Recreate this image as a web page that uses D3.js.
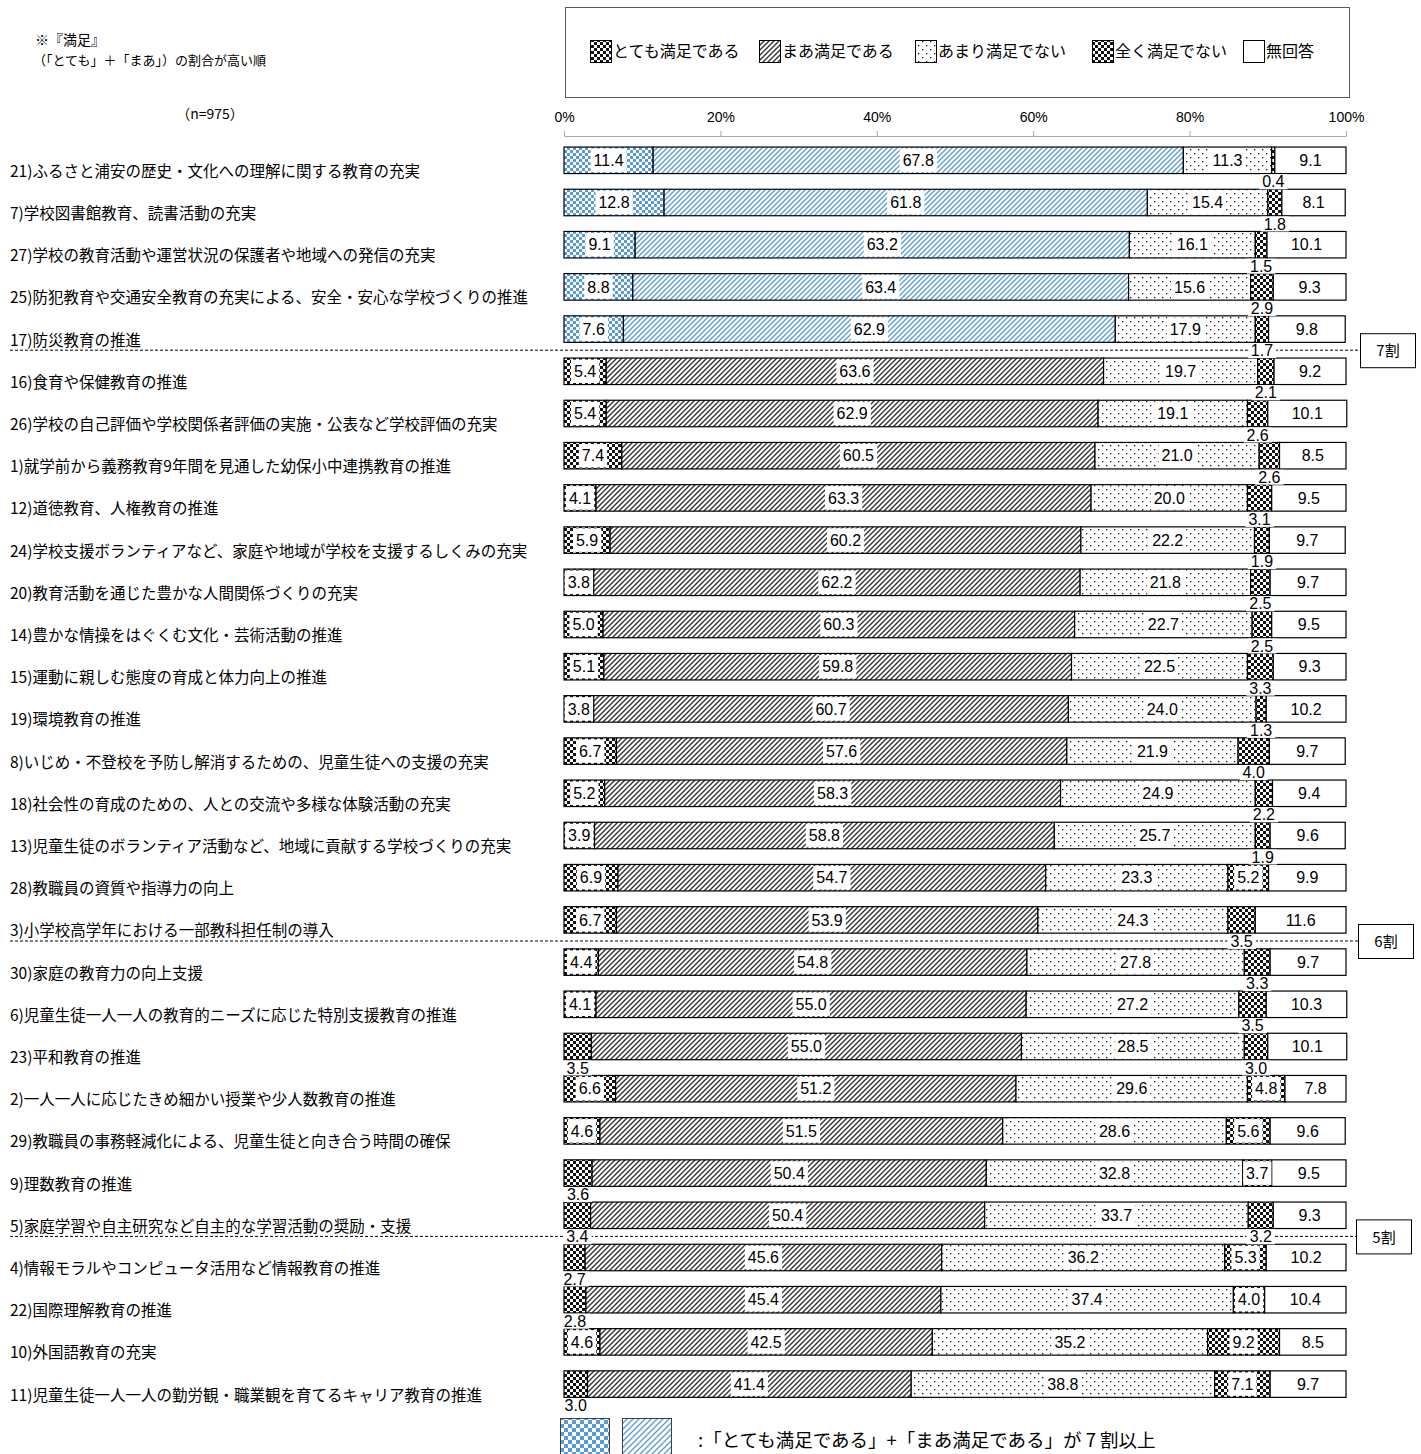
<!DOCTYPE html>
<html>
<head>
<meta charset="utf-8">
<script src="https://cdn.jsdelivr.net/npm/d3@7"></script>
<style>
  body { margin: 0; background: #fff; }
  svg { display: block; }
</style>
</head>
<body>
<div id="chart"></div>
<script>
const width = 1421;
const height = 1454;

// category labels, in the order shown (highest 『満足』 first)
const categories = [
    "21)ふるさと浦安の歴史・文化への理解に関する教育の充実",
    "7)学校図書館教育、読書活動の充実",
    "27)学校の教育活動や運営状況の保護者や地域への発信の充実",
    "25)防犯教育や交通安全教育の充実による、安全・安心な学校づくりの推進",
    "17)防災教育の推進",
    "16)食育や保健教育の推進",
    "26)学校の自己評価や学校関係者評価の実施・公表など学校評価の充実",
    "1)就学前から義務教育9年間を見通した幼保小中連携教育の推進",
    "12)道徳教育、人権教育の推進",
    "24)学校支援ボランティアなど、家庭や地域が学校を支援するしくみの充実",
    "20)教育活動を通じた豊かな人間関係づくりの充実",
    "14)豊かな情操をはぐくむ文化・芸術活動の推進",
    "15)運動に親しむ態度の育成と体力向上の推進",
    "19)環境教育の推進",
    "8)いじめ・不登校を予防し解消するための、児童生徒への支援の充実",
    "18)社会性の育成のための、人との交流や多様な体験活動の充実",
    "13)児童生徒のボランティア活動など、地域に貢献する学校づくりの充実",
    "28)教職員の資質や指導力の向上",
    "3)小学校高学年における一部教科担任制の導入",
    "30)家庭の教育力の向上支援",
    "6)児童生徒一人一人の教育的ニーズに応じた特別支援教育の推進",
    "23)平和教育の推進",
    "2)一人一人に応じたきめ細かい授業や少人数教育の推進",
    "29)教職員の事務軽減化による、児童生徒と向き合う時間の確保",
    "9)理数教育の推進",
    "5)家庭学習や自主研究など自主的な学習活動の奨励・支援",
    "4)情報モラルやコンピュータ活用など情報教育の推進",
    "22)国際理解教育の推進",
    "10)外国語教育の充実",
    "11)児童生徒一人一人の勤労観・職業観を育てるキャリア教育の推進"
];

const totemo  = [11.4, 12.8, 9.1, 8.8, 7.6, 5.4, 5.4, 7.4, 4.1, 5.9, 3.8, 5.0, 5.1, 3.8, 6.7, 5.2, 3.9, 6.9, 6.7, 4.4, 4.1, 3.5, 6.6, 4.6, 3.6, 3.4, 2.7, 2.8, 4.6, 3.0];
const maa     = [67.8, 61.8, 63.2, 63.4, 62.9, 63.6, 62.9, 60.5, 63.3, 60.2, 62.2, 60.3, 59.8, 60.7, 57.6, 58.3, 58.8, 54.7, 53.9, 54.8, 55.0, 55.0, 51.2, 51.5, 50.4, 50.4, 45.6, 45.4, 42.5, 41.4];
const amari   = [11.3, 15.4, 16.1, 15.6, 17.9, 19.7, 19.1, 21.0, 20.0, 22.2, 21.8, 22.7, 22.5, 24.0, 21.9, 24.9, 25.7, 23.3, 24.3, 27.8, 27.2, 28.5, 29.6, 28.6, 32.8, 33.7, 36.2, 37.4, 35.2, 38.8];
const mattaku = [0.4, 1.8, 1.5, 2.9, 1.7, 2.1, 2.6, 2.6, 3.1, 1.9, 2.5, 2.5, 3.3, 1.3, 4.0, 2.2, 1.9, 5.2, 3.5, 3.3, 3.5, 3.0, 4.8, 5.6, 3.7, 3.2, 5.3, 4.0, 9.2, 7.1];
const mukaito = [9.1, 8.1, 10.1, 9.3, 9.8, 9.2, 10.1, 8.5, 9.5, 9.7, 9.7, 9.5, 9.3, 10.2, 9.7, 9.4, 9.6, 9.9, 11.6, 9.7, 10.3, 10.1, 7.8, 9.6, 9.5, 9.3, 10.2, 10.4, 8.5, 9.7];

const seriesNames = ["とても満足である", "まあ満足である", "あまり満足でない", "全く満足でない", "無回答"];
const tickValues = [0, 20, 40, 60, 80, 100];
const thresholds = [70, 60, 50];
const thresholdLabels = ["7割", "6割", "5割"];
// rows whose 「全く満足でない」 label sits under the bar
const mattakuLabelBelow = [0, 1, 2, 3, 4, 5, 6, 7, 8, 9, 10, 11, 12, 13, 14, 15, 16, 18, 19, 20, 21, 25];

const keys = ["s1", "s2", "s3", "s4", "s5"];
const table = categories.map((c, i) => ({
    name: c, idx: i,
    s1: totemo[i], s2: maa[i], s3: amari[i], s4: mattaku[i], s5: mukaito[i]
}));

const jpFont = "'Noto Sans CJK JP', 'Noto Sans', sans-serif";
const numFont = "'Liberation Sans Narrow', 'Liberation Sans', sans-serif";

const svg = d3.select("#chart")
    .append("svg")
    .attr("width", width)
    .attr("height", height);

// ---- patterns
const defs = svg.append("defs");

function checker(id, color, cell) {
    const p = defs.append("pattern").attr("id", id)
        .attr("patternUnits", "userSpaceOnUse")
        .attr("width", cell * 2).attr("height", cell * 2);
    p.append("rect").attr("width", cell * 2).attr("height", cell * 2).attr("fill", "#fff");
    p.append("rect").attr("width", cell).attr("height", cell).attr("fill", color);
    p.append("rect").attr("x", cell).attr("y", cell).attr("width", cell).attr("height", cell).attr("fill", color);
}

function hatch(id, color, s, sw) {
    const p = defs.append("pattern").attr("id", id)
        .attr("patternUnits", "userSpaceOnUse")
        .attr("width", s).attr("height", s);
    p.append("rect").attr("width", s).attr("height", s).attr("fill", "#fff");
    p.append("path")
        .attr("d", `M0,${s} L${s},0 M-1,1 L1,-1 M${s - 1},${s + 1} L${s + 1},${s - 1}`)
        .attr("stroke", color).attr("stroke-width", sw);
}

function dots(id) {
    const p = defs.append("pattern").attr("id", id)
        .attr("patternUnits", "userSpaceOnUse")
        .attr("width", 8).attr("height", 8);
    p.append("rect").attr("width", 8).attr("height", 8).attr("fill", "#fff");
    p.append("rect").attr("x", 2).attr("y", 1).attr("width", 1.3).attr("height", 1.3).attr("fill", "#111");
    p.append("rect").attr("x", 6).attr("y", 5).attr("width", 1.3).attr("height", 1.3).attr("fill", "#111");
}

checker("pTotemo", "#111", 3);
checker("pTotemoBlue", "#5b9bd5", 3);
hatch("pMaa", "#333", 5, 1.4);
hatch("pMaaBlue", "#5b9bd5", 5, 1.3);
dots("pAmari");
checker("pMattaku", "#111", 3);

function fillFor(key, blue) {
    if (key === "s1") return blue ? "url(#pTotemoBlue)" : "url(#pTotemo)";
    if (key === "s2") return blue ? "url(#pMaaBlue)" : "url(#pMaa)";
    if (key === "s3") return "url(#pAmari)";
    if (key === "s4") return "url(#pMattaku)";
    return "#fff";
}

// ---- scales
const x = d3.scaleLinear().domain([0, 100]).range([564, 1346]);
const y = d3.scaleBand()
    .domain(categories)
    .range([139.2, 139.2 + 30 * 42.2])
    .paddingInner(0.372)
    .paddingOuter(0.186);
const bw = y.bandwidth();

// ---- header texts
svg.append("text").attr("x", 35).attr("y", 45)
    .attr("font-family", jpFont).attr("font-size", "14px").text("※『満足』");
svg.append("text").attr("x", 33).attr("y", 65)
    .attr("font-family", jpFont).attr("font-size", "13px").text("（「とても」＋「まあ」）の割合が高い順");
svg.append("text").attr("x", 210).attr("y", 119).attr("text-anchor", "middle")
    .attr("font-family", jpFont).attr("font-size", "14px").text("（n=975）");

// ---- legend
svg.append("rect").attr("x", 565.5).attr("y", 7.5).attr("width", 784).attr("height", 90)
    .attr("fill", "#fff").attr("stroke", "#595959");
const legendX = [590, 759, 915, 1092, 1243];
keys.forEach((k, i) => {
    svg.append("rect").attr("x", legendX[i] + 0.5).attr("y", 40.5).attr("width", 21).attr("height", 22)
        .attr("fill", fillFor(k, false)).attr("stroke", "#000");
    svg.append("text").attr("x", legendX[i] + 23).attr("y", 57)
        .attr("font-family", jpFont).attr("font-size", "16px")
        .text(seriesNames[i]);
});

// ---- axis
const axis = svg.append("g")
    .attr("transform", "translate(0,136)")
    .call(d3.axisTop(x).tickValues(tickValues).tickFormat(d => d + "%")
        .tickSize(5).tickSizeOuter(0).tickPadding(9));
axis.selectAll("path, line").attr("stroke", "#a6a6a6");
axis.selectAll("text").attr("font-family", numFont).attr("font-size", "14px").attr("fill", "#000");

// ---- threshold dashed lines
thresholds.forEach((t, ti) => {
    const i = table.findIndex((d, j) => d.s1 + d.s2 < t && j > 0);
    const ly = y(categories[i]) - (y.step() - bw) / 2;
    const boxX = 1360 - ti * 2;
    svg.append("line").attr("x1", 10).attr("x2", boxX).attr("y1", ly).attr("y2", ly)
        .attr("stroke", "#000").attr("stroke-width", 1).attr("stroke-dasharray", "3,2");
    svg.append("rect").attr("x", boxX + 0.5).attr("y", ly - 16.5).attr("width", 55).attr("height", 34)
        .attr("fill", "#fff").attr("stroke", "#000");
    svg.append("text").attr("x", boxX + 28).attr("y", ly + 1).attr("dy", "0.35em")
        .attr("text-anchor", "middle").attr("font-family", jpFont).attr("font-size", "15px")
        .text(thresholdLabels[ti]);
});

// ---- category labels
svg.append("g").selectAll("text")
    .data(table)
    .join("text")
    .attr("x", 10)
    .attr("y", d => y(d.name) + bw / 2 + 11)
    .attr("dy", "0.35em")
    .attr("font-family", jpFont)
    .attr("font-size", "15.5px")
    .text(d => d.name);

// ---- bars
const stacked = d3.stack().keys(keys)(table);
const barG = svg.append("g");
stacked.forEach(series => {
    barG.append("g").selectAll("rect")
        .data(series)
        .join("rect")
        .attr("x", d => x(d[0]))
        .attr("y", d => y(d.data.name))
        .attr("width", d => x(d[1]) - x(d[0]))
        .attr("height", bw)
        .attr("fill", d => fillFor(series.key, d.data.s1 + d.data.s2 >= 70))
        .attr("stroke", "#000")
        .attr("stroke-width", 1.2);
});

// ---- value labels (white box behind, like the original data labels)
const labelG = svg.append("g");
function addLabel(cx, cy, txt, inside, top) {
    const g = labelG.append("g");
    const t = g.append("text")
        .attr("x", cx).attr("y", cy).attr("dy", "0.36em")
        .attr("text-anchor", "middle")
        .attr("font-family", numFont).attr("font-size", "16px")
        .text(txt);
    const b = t.node().getBBox();
    g.insert("rect", "text")
        .attr("x", b.x - 3)
        .attr("y", inside ? top + 1.5 : b.y + 1)
        .attr("width", b.width + 6)
        .attr("height", inside ? bw - 3 : b.height - 2)
        .attr("fill", "#fff");
}

stacked.forEach(series => {
    series.forEach(d => {
        const v = d.data[series.key];
        const cx = x((d[0] + d[1]) / 2);
        const top = y(d.data.name);
        let below = false;
        if (series.key === "s1" && v < 3.7) below = true;
        if (series.key === "s4" && mattakuLabelBelow.includes(d.data.idx)) below = true;
        const cy = below ? top + bw + 8 : top + bw / 2;
        addLabel(cx, cy, v.toFixed(1), !below, top);
    });
});

// ---- bottom note
checker("pTotemoBlueBig", "#5b9bd5", 4);
hatch("pMaaBlueBig", "#5b9bd5", 6, 1.3);
svg.append("rect").attr("x", 560.5).attr("y", 1418.5).attr("width", 49).attr("height", 40)
    .attr("fill", "url(#pTotemoBlueBig)").attr("stroke", "#404040");
svg.append("rect").attr("x", 622.5).attr("y", 1418.5).attr("width", 49).attr("height", 40)
    .attr("fill", "url(#pMaaBlueBig)").attr("stroke", "#404040");
svg.append("text").attr("x", 698).attr("y", 1447)
    .attr("font-family", jpFont).attr("font-size", "18.5px")
    .text(":「とても満足である」+「まあ満足である」が 7 割以上");
</script>
</body>
</html>
